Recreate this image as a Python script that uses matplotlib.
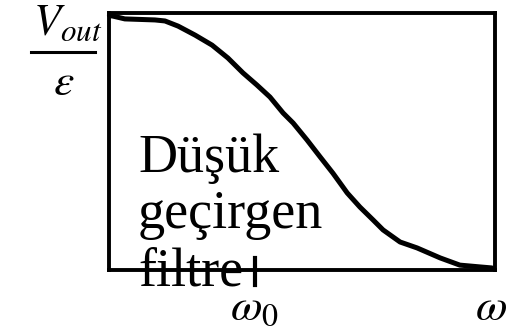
import matplotlib
matplotlib.use("Agg")
import matplotlib.pyplot as plt
from matplotlib.lines import Line2D

plt.rcParams['mathtext.fontset'] = 'stix'
plt.rcParams['font.family'] = ['Liberation Serif', 'DejaVu Serif']

# Data (normalized frequency vs normalized response)
omega = [0.01, 0.10, 0.41, 1.19, 1.45, 1.79, 2.23, 2.67, 3.08, 3.47, 3.83,
         4.17, 4.51, 4.77, 5.13, 5.47, 5.80, 6.06, 6.17, 6.50, 6.84, 7.10,
         7.54, 7.98, 8.58, 9.09, 9.61, 9.92]
response = [0.99, 0.988, 0.977, 0.973, 0.969, 0.949, 0.914, 0.875, 0.825,
            0.767, 0.720, 0.673, 0.611, 0.572, 0.506, 0.440, 0.377, 0.323,
            0.300, 0.245, 0.195, 0.156, 0.109, 0.086, 0.047, 0.019, 0.012,
            0.008]
omega0 = 3.78
label_lines = ["Düşük", "geçirgen", "filtre"]

W, H = 522, 333
fig = plt.figure(figsize=(W / 100, H / 100), dpi=100)
ax = fig.add_axes([109 / W, 1 - 270 / H, (495 - 109) / W, (270 - 13) / H])
ax.set_xlim(0, 10)
ax.set_ylim(0, 1)
for s in ax.spines.values():
    s.set_linewidth(2.8)
ax.set_xticks([])
ax.set_yticks([])

ax.plot(omega, response, color='black', lw=3.6, solid_capstyle='round',
        solid_joinstyle='round', clip_on=False)

# tick at omega0
ax.plot([omega0, omega0], [0.045, -0.06], color='black', lw=3.0, clip_on=False)

def fx(px):
    return px / W

def fy(py):
    return 1 - py / H

# Text label
for txt, base in zip(label_lines, [172, 228, 286]):
    fig.text(fx(138), fy(base), txt, fontsize=39, ha='left', va='baseline',
             family='Liberation Serif')

# omega labels
fig.text(fx(254), fy(320), r'$\omega_0$', fontsize=33, ha='center', va='baseline')
fig.text(fx(491), fy(320), r'$\omega$', fontsize=33, ha='center', va='baseline')

# Y label as fraction
fig.text(fx(33), fy(35), r'$V_{out}$', fontsize=32, ha='left', va='baseline')
fig.add_artist(Line2D([fx(31), fx(95)], [fy(52), fy(52)], color='black', lw=2.2,
                      transform=fig.transFigure))
fig.text(fx(64), fy(95), r'$\varepsilon$', fontsize=33, ha='center', va='baseline')

fig.savefig('out.png', dpi=100)
